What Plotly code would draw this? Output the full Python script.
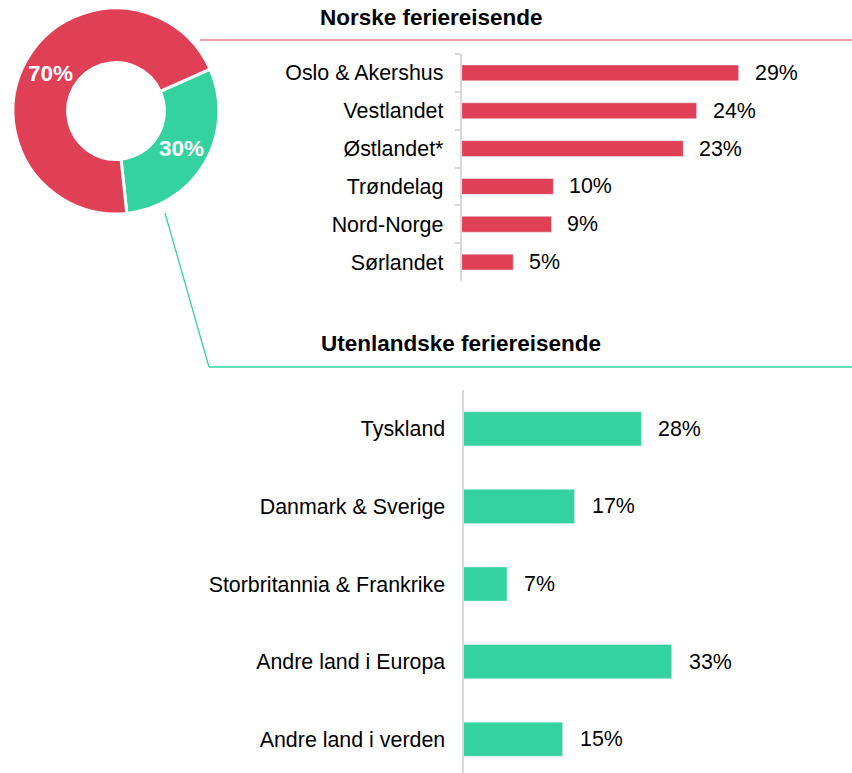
import plotly.graph_objects as go

# ---- data ----
share_labels = ["Utenlandske", "Norske"]
share_values = [30, 70]

norsk_regions = ["Oslo & Akershus", "Vestlandet", "Østlandet*", "Trøndelag", "Nord-Norge", "Sørlandet"]
norsk_values = [29.0, 24.6, 23.2, 9.6, 9.4, 5.4]          # bar lengths as drawn
norsk_labels = ["29%", "24%", "23%", "10%", "9%", "5%"]    # printed labels

utland_countries = ["Tyskland", "Danmark & Sverige", "Storbritannia & Frankrike", "Andre land i Europa", "Andre land i verden"]
utland_values = [28.2, 17.6, 6.9, 33.0, 15.7]
utland_labels = ["28%", "17%", "7%", "33%", "15%"]

RED = "#E04055"
GREEN = "#34D29F"
W, H = 852, 773
FONT = "Liberation Sans, Arial, sans-serif"
FS = 21.4

fig = go.Figure()

# donut
fig.add_trace(go.Pie(
    labels=share_labels, values=share_values, hole=0.47, sort=False,
    direction="clockwise", rotation=66,
    marker=dict(colors=[GREEN, RED], line=dict(color="white", width=3)),
    textinfo="percent", textposition="inside", insidetextorientation="horizontal",
    textfont=dict(color="white", size=22.5, family=FONT, weight="bold"),
    domain=dict(x=[13 / W, 219 / W], y=[1 - 214 / H, 1 - 8 / H]),
    showlegend=False, hoverinfo="label+percent",
))

# top bars
fig.add_trace(go.Bar(
    x=norsk_values, y=norsk_regions, orientation="h", width=0.42,
    marker=dict(color=RED), xaxis="x", yaxis="y", showlegend=False,
))
# bottom bars
fig.add_trace(go.Bar(
    x=utland_values, y=utland_countries, orientation="h", width=0.44,
    marker=dict(color=GREEN), xaxis="x2", yaxis="y2", showlegend=False,
))

annotations = []
for v, c, t in zip(norsk_values, norsk_regions, norsk_labels):
    annotations.append(dict(x=v, y=c, xref="x", yref="y", text=t, showarrow=False,
                            xanchor="left", xshift=14, font=dict(size=FS, color="black", family=FONT)))
for v, c, t in zip(utland_values, utland_countries, utland_labels):
    annotations.append(dict(x=v, y=c, xref="x2", yref="y2", text=t, showarrow=False,
                            xanchor="left", xshift=15, font=dict(size=FS, color="black", family=FONT)))

annotations.append(dict(x=431 / W, y=1 - 18 / H, xref="paper", yref="paper", text="<b>Norske feriereisende</b>",
                        showarrow=False, xanchor="center", yanchor="middle",
                        font=dict(size=22.5, color="black", family=FONT)))
annotations.append(dict(x=461 / W, y=1 - 344 / H, xref="paper", yref="paper", text="<b>Utenlandske feriereisende</b>",
                        showarrow=False, xanchor="center", yanchor="middle",
                        font=dict(size=22.5, color="black", family=FONT)))

shapes = [
    dict(type="line", xref="paper", yref="paper", x0=200 / W, y0=1 - 40 / H, x1=1, y1=1 - 40 / H,
         line=dict(color=RED, width=1)),
    dict(type="line", xref="paper", yref="paper", x0=165 / W, y0=1 - 213 / H, x1=209 / W, y1=1 - 367 / H,
         line=dict(color=GREEN, width=1.3)),
    dict(type="line", xref="paper", yref="paper", x0=209 / W, y0=1 - 367 / H, x1=1, y1=1 - 367 / H,
         line=dict(color=GREEN, width=1.3)),
]

fig.update_layout(
    width=W, height=H, margin=dict(l=0, r=0, t=0, b=0),
    paper_bgcolor="white", plot_bgcolor="white",
    font=dict(family=FONT, size=FS, color="black"),
    bargap=0.5,
    xaxis=dict(domain=[461.7 / W, 1], range=[0, (W - 461.7) / 9.55], visible=False, fixedrange=True),
    yaxis=dict(domain=[1 - 281 / H, 1 - 54 / H], type="category", categoryorder="array",
               categoryarray=norsk_regions, range=[5.5, -0.5], anchor="x",
               showline=True, linecolor="#D9D9D9", linewidth=2, ticks="outside", tickson="boundaries",
               ticklen=5, tickcolor="#D9D9D9", tickwidth=2, ticklabelstandoff=12,
               showgrid=False, zeroline=False, tickfont=dict(size=FS, color="black")),
    xaxis2=dict(domain=[463.5 / W, 1], range=[0, (W - 463.5) / 6.31], visible=False, fixedrange=True, anchor="y2"),
    yaxis2=dict(domain=[0, 1 - 390 / H], type="category", categoryorder="array",
                categoryarray=utland_countries, range=[4.435, -0.5], anchor="x2",
                showline=True, linecolor="#D9D9D9", linewidth=2, ticks="",
                ticklabelstandoff=12,
                showgrid=False, zeroline=False, tickfont=dict(size=FS, color="black")),
    annotations=annotations, shapes=shapes,
)

fig.write_html("out.html", config={"displayModeBar": False},
               post_script="document.body.style.margin='0';document.body.style.overflow='hidden';")
